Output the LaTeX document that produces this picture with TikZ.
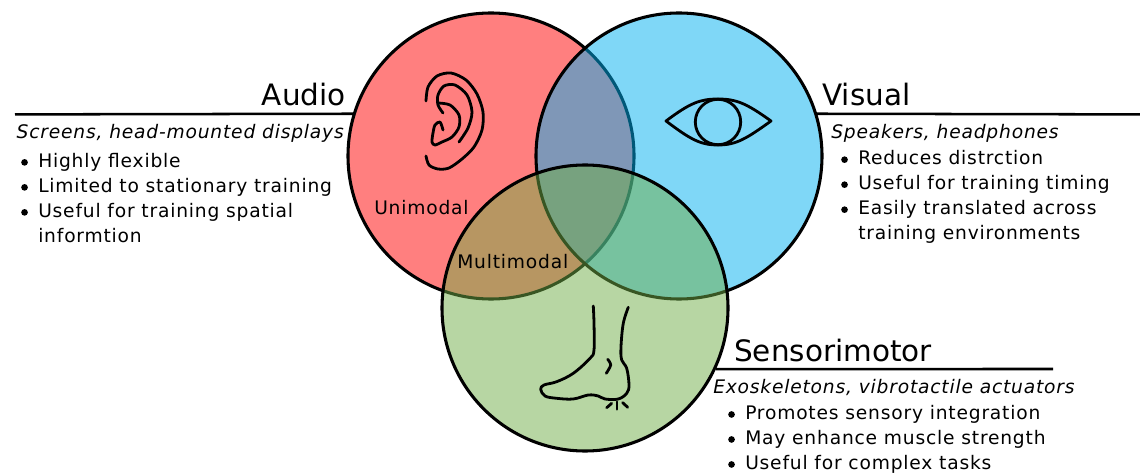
\documentclass[tikz,border=0pt]{standalone}
\usepackage{fontspec}
\setmainfont{DejaVu Sans}
\newfontfamily\bodyfont[LetterSpace=4.3]{DejaVu Sans}
\usepackage{tikz}
\usetikzlibrary{positioning}
\definecolor{audiored}{HTML}{FF0000}
\definecolor{visualblue}{HTML}{00B0F0}
\definecolor{motorgreen}{HTML}{70AD47}

\begin{document}
\begin{tikzpicture}[
  x=0.75pt, y=-0.75pt, node distance=18.75pt,
  venn/.style={draw=black, line width=2.3pt, circle, minimum size=214.5pt, inner sep=0pt, fill opacity=0.5},
  rulefig/.style={draw=black, line width=1.9pt},
  icon/.style={draw=black, line width=2.1pt, line cap=round, line join=round},
  title/.style={font=\fontsize{22.1}{24}\selectfont, inner sep=0pt, anchor=base west},
  media/.style={font=\fontsize{14}{16}\selectfont\bodyfont\itshape, inner sep=0pt, anchor=base west},
  item/.style={font=\fontsize{14}{16}\selectfont\bodyfont, inner sep=0pt, anchor=base west},
  lab/.style={font=\fontsize{14}{16}\selectfont\bodyfont, inner sep=0pt, anchor=base west}
]
\useasboundingbox (0,0) rectangle (1140,474);
% rules
\coordinate (audiorule) at (15,114.4);
\coordinate (visualrule) at (1140,114.4);
\coordinate (motorrule) at (1053,369);
% circles
\node[venn, fill=audiored] (audio) at (491,156) {};
\node[venn, fill=visualblue] (visual) at (679,156) {};
\node[venn, fill=motorgreen] (motor) at (585,308) {};
\draw[rulefig] (audiorule) -- (audio.163);
\draw[rulefig] (visual.17) -- (visualrule);
\draw[rulefig] (motor.-25.3) -- (motorrule);
% ear
\draw[icon] plot[smooth] coordinates {(426,101) (428,87) (437,76) (451,73) (466,80) (477,94) (483,112) (482,130) (474,147) (462,159) (449,168) (438,169) (429,165) (426,156)};
\draw[icon] plot[smooth] coordinates {(459,142) (468,128) (472,112) (467,95) (455,85) (444,86) (438,95) (438,105) (443,113)};
\draw[icon] plot[smooth] coordinates {(438,103) (450,105) (459,115) (459,127) (452,137) (442,142) (435,145) (432,142) (433,133) (435,125) (440,122) (443,130)};
% eye
\draw[icon] (666,121) .. controls (690,103) and (700,99) .. (718,99) .. controls (736,99) and (746,103) .. (771,121)
  .. controls (746,139) and (736,145) .. (718,145) .. controls (700,145) and (690,139) .. (666,121) -- cycle;
\draw[icon] (718,122) circle (22.7);
% foot
\draw[icon] plot[smooth, tension=0.6] coordinates {(593.3,306) (594,323.3) (594,350) (590,358.3) (573.3,373.3) (556.7,381.7) (544,385) (540.7,389.3) (545,396) (556.7,398.3) (573.3,399) (588.3,395) (598.3,396) (605,399) (618.3,399) (626.7,393.3) (629,385) (626.7,368.3) (621.7,360) (621,346.7) (623.3,323.3) (628.3,307.3)};
\draw[icon] plot[smooth] coordinates {(607.7,359.3) (610.7,365) (606.3,373.3)};
\draw[icon] (606.7,407.7) -- (611.7,403.3);
\draw[icon] (617,401.7) -- (617,409.3);
\draw[icon] (622.7,402.7) -- (627.7,407.3);
% audio text
\node[title, anchor=base east] (audiotitle) at (346,106) {Audio};
\node[media, anchor=base east] (audiomedia) at (344,139) {Screens, head-mounted displays};
\node[item] (a1) at (38,167.7) {Highly flexible};
\node[item, below=of a1.base west, anchor=base west] (a2) {Limited to stationary training};
\node[item, below=of a2.base west, anchor=base west] (a3) {Useful for training spatial};
\node[item, below=of a3.base west, anchor=base west] (a4) {informtion};
% visual text
\node[title] (visualtitle) at (822,106) {Visual};
\node[media] (visualmedia) at (831,139) {Speakers, headphones};
\node[item] (v1) at (858,165) {Reduces distrction};
\node[item, below=of v1.base west, anchor=base west] (v2) {Useful for training timing};
\node[item, below=of v2.base west, anchor=base west] (v3) {Easily translated across};
\node[item, below=of v3.base west, anchor=base west] (v4) {training environments};
% sensorimotor text
\node[title] (motortitle) at (734,361) {Sensorimotor};
\node[media] (motormedia) at (713,393) {Exoskeletons, vibrotactile actuators};
\node[item] (s1) at (745,419.8) {Promotes sensory integration};
\node[item, below=of s1.base west, anchor=base west] (s2) {May enhance muscle strength};
\node[item, below=of s2.base west, anchor=base west] (s3) {Useful for complex tasks};
% bullets
\foreach \n in {a1,a2,a3,v1,v2,v3,s1,s2,s3}
  \fill ([xshift=-10.1pt,yshift=4pt]\n.base west) circle (2.5pt);
% regions
\node[lab] (unimodal) at (374,215) {Unimodal};
\node[lab] (multimodal) at (457,269) {Multimodal};
\end{tikzpicture}
\end{document}
